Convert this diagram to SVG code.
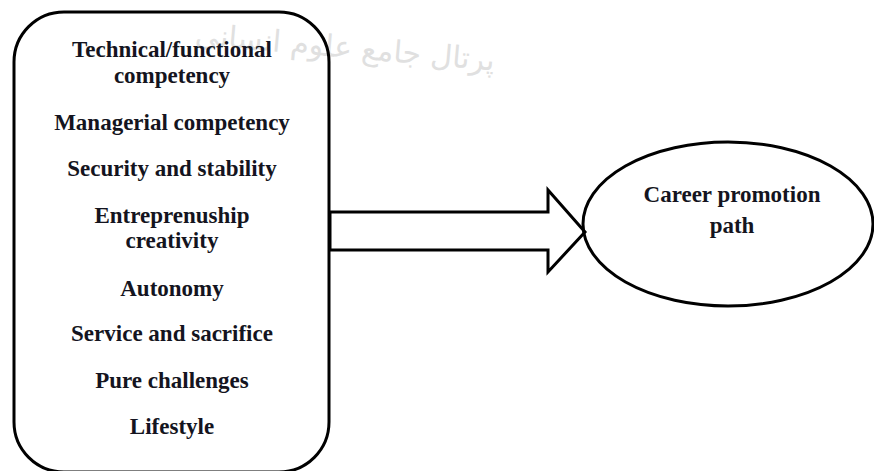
<svg xmlns="http://www.w3.org/2000/svg" width="874" height="471" viewBox="0 0 874 471">
<style>
.lbl{font-family:"Liberation Serif","Times New Roman",serif;font-weight:bold;font-size:23px;fill:#141420;text-anchor:middle}
.shape{fill:none;stroke:#000;stroke-width:3}
.wm{font-family:"DejaVu Sans","Noto Sans",sans-serif;font-size:30px;fill:#e0e0e0;text-anchor:start;direction:rtl}
</style>
<rect width="874" height="471" fill="#fff"/>
<text class="wm" x="495" y="58" transform="rotate(5 350 50)">پرتال جامع علوم انسانی</text>
<g id="factors">
<rect class="shape" x="14" y="12" width="315" height="460" rx="50" ry="50"/>
<text class="lbl" x="172" y="57">Technical/functional</text>
<text class="lbl" x="172" y="83">competency</text>
<text class="lbl" x="172" y="130">Managerial competency</text>
<text class="lbl" x="172" y="176">Security and stability</text>
<text class="lbl" x="172" y="223">Entreprenuship</text>
<text class="lbl" x="172" y="248">creativity</text>
<text class="lbl" x="172" y="296">Autonomy</text>
<text class="lbl" x="172" y="341">Service and sacrifice</text>
<text class="lbl" x="172" y="388">Pure challenges</text>
<text class="lbl" x="172" y="434">Lifestyle</text>
</g>
<g id="connectors">
<polygon class="shape" points="330,212 548,212 548,190 585,232 548,272 548,250 330,250"/>
</g>
<g id="career">
<ellipse class="shape" cx="728" cy="224" rx="145" ry="82"/>
<text class="lbl" x="732" y="202">Career promotion</text>
<text class="lbl" x="732" y="233">path</text>
</g>
</svg>
